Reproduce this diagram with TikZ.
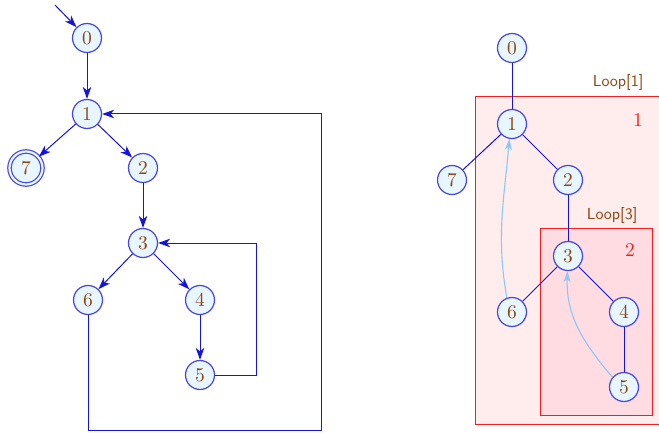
\documentclass[tikz,border=0pt]{standalone}
\usetikzlibrary{arrows.meta}
\definecolor{nodefill}{RGB}{232,246,255}
\definecolor{nodedraw}{RGB}{70,70,230}
\definecolor{edgeblue}{RGB}{20,20,225}
\definecolor{numbrown}{RGB}{140,70,15}
\definecolor{backblue}{RGB}{140,200,245}
\definecolor{outerfill}{RGB}{255,236,236}
\definecolor{innerfill}{RGB}{255,219,226}
\definecolor{loopred}{RGB}{245,30,30}
\newcommand\bigdigit[1]{\scalebox{1.95}{#1}}
\newcommand\looptext[1]{\scalebox{1.6}{\sffamily #1}}
\begin{document}
\begin{tikzpicture}[x=1pt,y=-1pt,
  st/.style={circle,draw=nodedraw,fill=nodefill,line width=1.2pt,minimum size=29pt,inner sep=0pt,
    text=numbrown},
  fin/.style={st,minimum size=33pt,double=nodefill,double distance=2.2pt},
  edge/.style={draw=edgeblue,line width=1pt},
  arr/.style={edge,-{Stealth[length=12pt,width=8.5pt,inset=3.5pt]}},
  back/.style={draw=backblue,line width=1.1pt,-{Stealth[length=11pt,width=7pt,inset=3pt]}},
  looplab/.style={text=numbrown},
  boxnum/.style={text=loopred}]
\useasboundingbox (0,0) rectangle (659,433);
% left graph
\node[st] (a0) at (87,38) {\bigdigit{0}};
\node[st] (a1) at (87,114) {\bigdigit{1}};
\node[fin] (a7) at (26,168) {\bigdigit{7}};
\node[st] (a2) at (143,168) {\bigdigit{2}};
\node[st] (a3) at (143,243) {\bigdigit{3}};
\node[st] (a6) at (88,300) {\bigdigit{6}};
\node[st] (a4) at (200,300) {\bigdigit{4}};
\node[st] (a5) at (200,375) {\bigdigit{5}};
\coordinate (start) at (55,5);
\draw[arr] (start) -- (a0);
\draw[arr] (a0) -- (a1);
\draw[arr] (a1) -- (a7);
\draw[arr] (a1) -- (a2);
\draw[arr] (a2) -- (a3);
\draw[arr] (a3) -- (a6);
\draw[arr] (a3) -- (a4);
\draw[arr] (a4) -- (a5);
\draw[arr] (a5.east) -- (256,375) -- (256,243) -- (a3.east);
\draw[arr] (a6.south) -- (88,430) -- (321,430) -- (321,114) -- (a1.east);
% right graph
\draw[draw=loopred,fill=outerfill,line width=0.9pt] (475,96) rectangle (662,424);
\draw[draw=loopred,fill=innerfill,line width=0.9pt] (540,228) rectangle (652,415);
\node[looplab,anchor=base east] (l1) at (647,87) {\looptext{Loop[1]}};
\node[looplab,anchor=base east] (l3) at (641,219) {\looptext{Loop[3]}};
\node[boxnum] (n1) at (638,120) {\bigdigit{1}};
\node[boxnum] (n2) at (630,250) {\bigdigit{2}};
\node[st] (b0) at (512,48) {\bigdigit{0}};
\node[st] (b1) at (512,124) {\bigdigit{1}};
\node[st] (b7) at (452,180) {\bigdigit{7}};
\node[st] (b2) at (568,180) {\bigdigit{2}};
\node[st] (b3) at (568,256) {\bigdigit{3}};
\node[st] (b6) at (512,312) {\bigdigit{6}};
\node[st] (b4) at (624,312) {\bigdigit{4}};
\node[st] (b5) at (624,387) {\bigdigit{5}};
\draw[edge] (b0) -- (b1);
\draw[edge] (b1) -- (b7);
\draw[edge] (b1) -- (b2);
\draw[edge] (b2) -- (b3);
\draw[edge] (b3) -- (b6);
\draw[edge] (b3) -- (b4);
\draw[edge] (b4) -- (b5);
\draw[back] (b6.110) to[out=100,in=-95] (b1.-100);
\draw[back] (b5.140) to[out=130,in=-92] (b3.-92);
\end{tikzpicture}
\end{document}
